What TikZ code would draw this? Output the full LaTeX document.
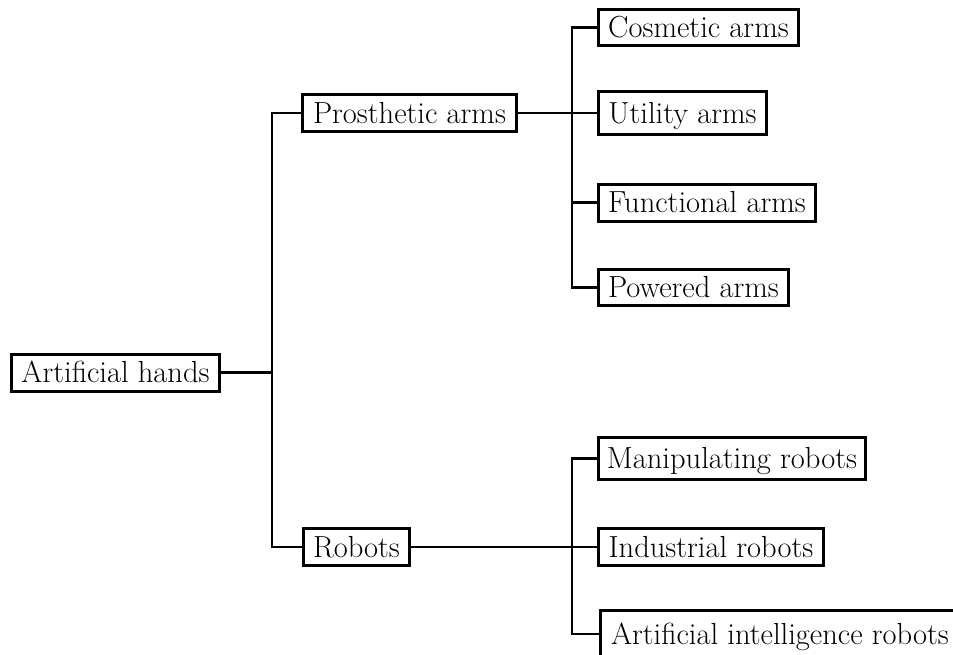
\documentclass[tikz,border=0pt]{standalone}
\begin{document}
\begin{tikzpicture}[x=1pt,y=-1pt,
  box/.style={draw=black,line width=3pt,inner sep=0pt,align=center,
    font=\fontsize{30.5}{36}\selectfont,text height=22pt,text depth=2pt},
  conn/.style={line width=2.6pt,line join=miter}]
\useasboundingbox (0,0) rectangle (953,654);
% nodes
\node[box,minimum width=208pt,minimum height=37pt] (hands) at (115.5,372.5) {Artificial hands};
\node[box,minimum width=214pt,minimum height=37pt] (pros) at (409.5,113) {Prosthetic arms};
\node[box,minimum width=200pt,minimum height=36pt] (cosm) at (698.5,27.5) {Cosmetic arms};
\node[box,minimum width=168pt,minimum height=43pt] (util) at (682.5,113) {Utility arms};
\node[box,minimum width=217pt,minimum height=37pt] (func) at (707,202.5) {Functional arms};
\node[box,minimum width=190pt,minimum height=36pt] (pow) at (693.5,287.5) {Powered arms};
\node[box,minimum width=106pt,minimum height=37pt] (robots) at (356.5,547) {Robots};
\node[box,minimum width=267pt,minimum height=42pt] (manip) at (732,458.5) {Manipulating robots};
\node[box,minimum width=225pt,minimum height=37pt] (indus) at (711,547) {Industrial robots};
\node[box,inner xsep=11pt,minimum height=47pt,anchor=west] (ai) at (598.5,634) {Artificial intelligence robots};
% junction columns
\coordinate (j1) at (272,372);
\coordinate (j2) at (572,300);
% connectors
\draw[conn] (hands.east) -- (hands.east -| j1);
\draw[conn] (pros.west) -- (pros.west -| j1) -- (robots.west -| j1) -- (robots.west);
\draw[conn] (pros.east) -- (util.west);
\draw[conn] (cosm.west) -- (cosm.west -| j2) -- (pow.west -| j2) -- (pow.west);
\draw[conn] (func.west -| j2) -- (func.west);
\draw[conn] (robots.east) -- (indus.west);
\draw[conn] (manip.west) -- (manip.west -| j2) -- (ai.west -| j2) -- (ai.west);
\end{tikzpicture}
\end{document}
